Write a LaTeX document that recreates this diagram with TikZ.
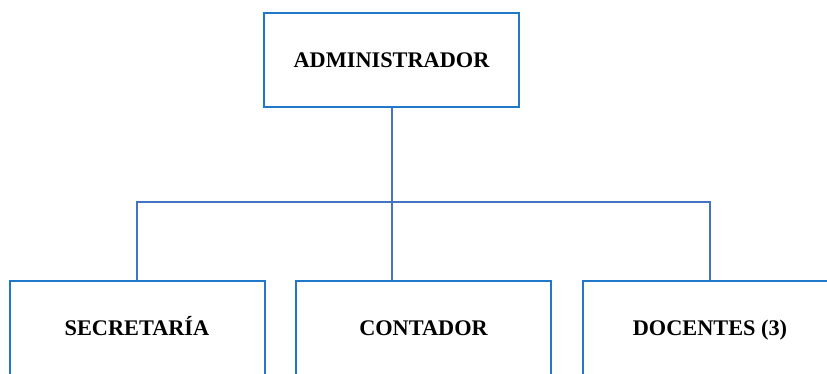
\documentclass[tikz,border=0pt]{standalone}
\usepackage{fontspec}
\setmainfont{Liberation Serif}
\definecolor{boxblue}{HTML}{1F78C8}
\definecolor{lineblue}{HTML}{4472C4}
\tikzset{
  cargo/.style={draw=boxblue,line width=2pt,fill=white,minimum width=255pt,minimum height=94pt,
    inner sep=0pt,text height=14.5pt,text depth=0pt,font=\fontsize{22.3}{26}\selectfont\bfseries},
  conn/.style={draw=lineblue,line width=2pt}
}

\begin{document}
\begin{tikzpicture}[x=1pt,y=-1pt]
\useasboundingbox (0,0) rectangle (827,373);
\node[cargo] (admin) at (391.5,60) {ADMINISTRADOR};
\node[cargo] (secr) at (137,328) {SECRETARÍA};
\node[cargo] (cont) at (423.5,328) {CONTADOR};
\node[cargo] (docn) at (710,328) {DOCENTES (3)};
\coordinate (bar) at (392,202);
\draw[conn] (admin.south -| bar) -- (bar);
\draw[conn] (secr.north) |- (bar) -| (docn.north);
\draw[conn] (bar) -- (bar |- cont.north);
\end{tikzpicture}
\end{document}
